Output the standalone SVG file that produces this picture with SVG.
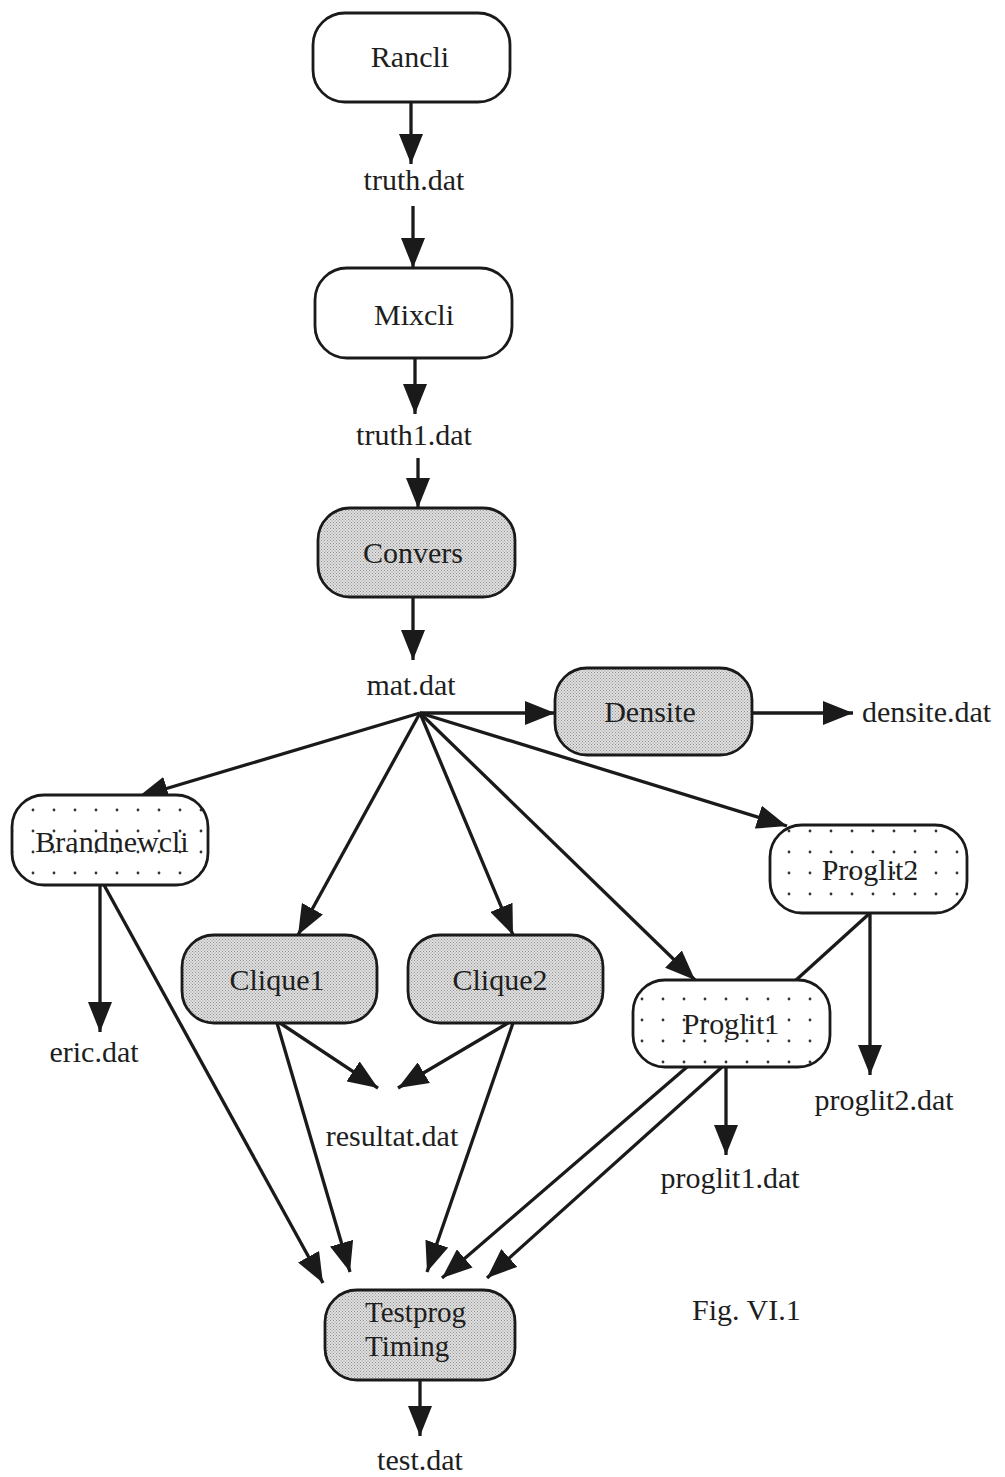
<svg xmlns="http://www.w3.org/2000/svg" width="1005" height="1477" viewBox="0 0 1005 1477">
<style>
.node{stroke:#1a1a1a;stroke-width:2.8}
.plain{fill:#fff}
.gray{fill:url(#stipple)}
.dots{fill:url(#dotted)}
text{font-family:"Liberation Serif","Times New Roman",serif;font-size:30px;fill:#1e1e1e}
.c{text-anchor:middle}
.tp{font-size:29px}
.edge{stroke:#1a1a1a;stroke-width:3.3;fill:none}
.arr{marker-end:url(#ah)}
</style>
<defs>
<marker id="ah" markerUnits="userSpaceOnUse" markerWidth="32" markerHeight="24" refX="30" refY="12" orient="auto">
<path d="M0,0 L30,12 L0,24 Z" fill="#1a1a1a"/>
</marker>
<pattern id="stipple" patternUnits="userSpaceOnUse" width="3" height="3">
<rect width="3" height="3" fill="#e0e0e0"/>
<rect x="0" y="0" width="1" height="1" fill="#909090"/>
<rect x="1.5" y="1.5" width="1" height="1" fill="#909090"/>
</pattern>
<pattern id="dotted" patternUnits="userSpaceOnUse" width="21" height="21" x="2" y="2">
<rect width="21" height="21" fill="#fff"/>
<circle cx="10" cy="10" r="1.4" fill="#333"/>
</pattern>
</defs>

<g id="connectors">
<line class="edge arr" x1="411" y1="102" x2="411" y2="164"/>
<line class="edge arr" x1="413" y1="206" x2="413" y2="268"/>
<line class="edge arr" x1="415" y1="358" x2="415" y2="414"/>
<line class="edge arr" x1="418" y1="458" x2="418" y2="508"/>
<line class="edge arr" x1="413" y1="597" x2="413" y2="660"/>
<line class="edge arr" x1="420" y1="713" x2="555" y2="713"/>
<line class="edge arr" x1="752" y1="713" x2="853" y2="713"/>
<line class="edge arr" x1="420" y1="713" x2="138" y2="797"/>
<line class="edge arr" x1="420" y1="713" x2="298" y2="935"/>
<line class="edge arr" x1="420" y1="713" x2="513" y2="935"/>
<line class="edge arr" x1="420" y1="713" x2="695" y2="980"/>
<line class="edge arr" x1="420" y1="713" x2="787" y2="826"/>
<line class="edge arr" x1="100" y1="885" x2="100" y2="1032"/>
<line class="edge arr" x1="104" y1="885" x2="323" y2="1283"/>
<line class="edge arr" x1="280" y1="1023" x2="378" y2="1088"/>
<line class="edge arr" x1="277" y1="1023" x2="350" y2="1272"/>
<line class="edge arr" x1="508" y1="1023" x2="398" y2="1088"/>
<line class="edge arr" x1="513" y1="1023" x2="427" y2="1272"/>
<line class="edge" x1="870" y1="913" x2="795" y2="981"/>
<line class="edge arr" x1="870" y1="913" x2="870" y2="1075"/>
<line class="edge arr" x1="687" y1="1067" x2="442" y2="1278"/>
<line class="edge arr" x1="722" y1="1067" x2="487" y2="1278"/>
<line class="edge arr" x1="726" y1="1067" x2="726" y2="1155"/>
<line class="edge arr" x1="420" y1="1380" x2="420" y2="1436"/>
</g>

<g id="n-rancli"><rect class="node plain" x="313" y="13" width="197" height="89" rx="32"/><text class="c" x="410" y="67">Rancli</text></g>
<g id="n-truth"><text class="c" x="414" y="190">truth.dat</text></g>
<g id="n-mixcli"><rect class="node plain" x="315" y="268" width="197" height="90" rx="32"/><text class="c" x="414" y="325">Mixcli</text></g>
<g id="n-truth1"><text class="c" x="414" y="445">truth1.dat</text></g>
<g id="n-convers"><rect class="node gray" x="318" y="508" width="197" height="89" rx="32"/><text class="c" x="413" y="563">Convers</text></g>
<g id="n-mat"><text class="c" x="411" y="695">mat.dat</text></g>
<g id="n-densite"><rect class="node gray" x="555" y="668" width="197" height="87" rx="32"/><text class="c" x="650" y="722">Densite</text></g>
<g id="n-densitedat"><text x="862" y="722">densite.dat</text></g>
<g id="n-brandnewcli"><rect class="node dots" x="12" y="795" width="196" height="90" rx="32"/><text class="c" x="112" y="852">Brandnewcli</text></g>
<g id="n-proglit2"><rect class="node dots" x="770" y="825" width="197" height="88" rx="32"/><text class="c" x="870" y="880">Proglit2</text></g>
<g id="n-clique1"><rect class="node gray" x="182" y="935" width="195" height="88" rx="32"/><text class="c" x="277" y="990">Clique1</text></g>
<g id="n-clique2"><rect class="node gray" x="408" y="935" width="195" height="88" rx="32"/><text class="c" x="500" y="990">Clique2</text></g>
<g id="n-proglit1"><rect class="node dots" x="633" y="980" width="197" height="87" rx="32"/><text class="c" x="731" y="1034">Proglit1</text></g>
<g id="n-eric"><text class="c" x="94" y="1062">eric.dat</text></g>
<g id="n-resultat"><text class="c" x="392" y="1146">resultat.dat</text></g>
<g id="n-proglit2dat"><text class="c" x="884" y="1110">proglit2.dat</text></g>
<g id="n-proglit1dat"><text class="c" x="730" y="1188">proglit1.dat</text></g>
<g id="n-testprog"><rect class="node gray" x="325" y="1290" width="190" height="90" rx="32"/><text class="tp" x="365" y="1322">Testprog</text><text class="tp" x="365" y="1356">Timing</text></g>
<g id="n-test"><text class="c" x="420" y="1470">test.dat</text></g>
<g id="caption"><text x="692" y="1320">Fig. VI.1</text></g>
</svg>
